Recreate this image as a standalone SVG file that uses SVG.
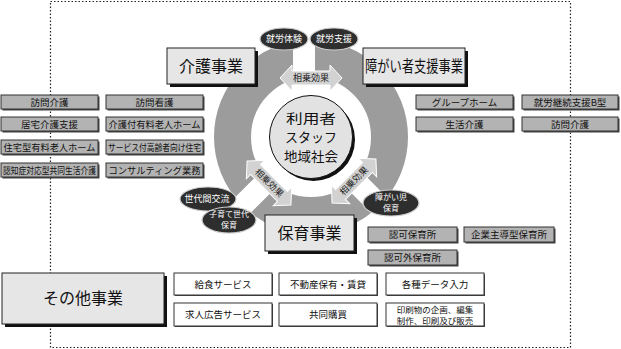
<svg xmlns="http://www.w3.org/2000/svg" width="621" height="349" viewBox="0 0 621 349">
<style>
text{font-family:"Noto Sans CJK JP","Noto Sans",sans-serif;text-anchor:middle;fill:#111}
.sb{fill:#b3b3b3;stroke:#333;stroke-width:1}
.sh{fill:#444}
.wb{fill:#fff;stroke:#333;stroke-width:1}
.bb{fill:#e6e6e6;stroke:#222;stroke-width:1}
.bs{fill:#111}
.t9{font-size:9.5px}
.t8{font-size:8.5px}
.big{font-size:16px}
.ct{font-size:13px}
.el{fill:#2e2e2e;stroke:#ccc;stroke-width:1.2}
.et{font-size:9px;fill:#fff}
.et2{font-size:8px;fill:#fff}
.arr{fill:#d2d2d2;stroke:#fff;stroke-width:1}
.at{font-size:9px;fill:#222}
</style>
<defs>
<path id="darr" d="M-31,0 L-19,-13 L-19,-7 L19,-7 L19,-13 L31,0 L19,13 L19,7 L-19,7 L-19,13 Z"/>
</defs>
<rect x="50.5" y="1.5" width="520" height="346" fill="none" stroke="#222" stroke-width="1.2" stroke-dasharray="1.5 2"/>
<g id="ring">
<circle cx="311" cy="137" r="78.5" fill="none" stroke="#9c9c9c" stroke-width="37"/>
<rect x="293" y="30" width="22" height="55" fill="#fff"/>
<rect x="50" y="-11" width="58" height="22" fill="#fff" transform="translate(311,137) rotate(135)"/>
<rect x="50" y="-11" width="58" height="22" fill="#fff" transform="translate(311,137) rotate(45)"/>
</g>
<g id="center">
<circle cx="313.5" cy="139.5" r="41.5" fill="#111"/>
<circle cx="311" cy="137" r="41.5" fill="#e2e2e2" stroke="#111" stroke-width="1"/>
<text class="ct" x="311" y="123" textLength="50" lengthAdjust="spacingAndGlyphs">利用者</text>
<text class="ct" x="311" y="142" textLength="52" lengthAdjust="spacingAndGlyphs">スタッフ</text>
<text class="ct" x="311" y="161" textLength="54" lengthAdjust="spacingAndGlyphs">地域社会</text>
</g>
<g id="connectors">
<g transform="translate(311,78)"><use href="#darr" class="arr"/><text class="at" y="3">相乗効果</text></g>
<g transform="translate(269,183) rotate(45)"><use href="#darr" class="arr"/><text class="at" y="3">相乗効果</text></g>
<g transform="translate(354,181) rotate(-45)"><use href="#darr" class="arr"/><text class="at" y="3">相乗効果</text></g>
</g>
<g id="kaigo">
<rect class="bs" x="170" y="51" width="88" height="36"/>
<rect class="bb" x="167" y="48" width="88" height="36"/>
<text class="big" x="211" y="72">介護事業</text>
</g>
<g id="shogai">
<rect class="bs" x="366" y="51" width="102" height="36"/>
<rect class="bb" x="363" y="48" width="102" height="36"/>
<text class="big" x="414" y="72" textLength="98" lengthAdjust="spacingAndGlyphs">障がい者支援事業</text>
</g>
<g id="hoiku">
<rect class="bs" x="268" y="218" width="89" height="36"/>
<rect class="bb" x="265" y="215" width="89" height="36"/>
<text class="big" x="309.5" y="239">保育事業</text>
</g>
<g id="sonota">
<rect class="bs" x="5" y="276" width="162" height="51"/>
<rect class="bb" x="2" y="273" width="162" height="51"/>
<text class="big" x="83" y="304">その他事業</text>
</g>
<g id="ellipses">
<g id="e1"><ellipse class="el" cx="284" cy="39" rx="24" ry="11"/><text class="et" x="284" y="42">就労体験</text></g>
<g id="e2"><ellipse class="el" cx="334" cy="39" rx="24" ry="11"/><text class="et" x="334" y="42">就労支援</text></g>
<g id="e3"><ellipse class="el" cx="208" cy="199" rx="28" ry="12"/><text class="et" x="207" y="202">世代間交流</text></g>
<g id="e4"><ellipse class="el" cx="229" cy="220" rx="27" ry="13"/><text class="et2" x="229" y="217">子育て世代</text><text class="et2" x="229" y="228">保育</text></g>
<g id="e5"><ellipse class="el" cx="391" cy="203" rx="28" ry="13"/><text class="et2" x="391" y="200">障がい児</text><text class="et2" x="391" y="211">保育</text></g>
</g>
<g id="kaigo-items">
<g id="k1"><rect class="sh" x="2.5" y="96.5" width="97" height="14"/><rect class="sb" x="1" y="95" width="97" height="14"/><text class="t9" x="49.5" y="105.5">訪問介護</text></g>
<g id="k2"><rect class="sh" x="2.5" y="118.5" width="97" height="14"/><rect class="sb" x="1" y="117" width="97" height="14"/><text class="t9" x="49.5" y="127.5">居宅介護支援</text></g>
<g id="k3"><rect class="sh" x="2.5" y="141.5" width="97" height="14"/><rect class="sb" x="1" y="140" width="97" height="14"/><text class="t9" x="49.5" y="150.5" textLength="92" lengthAdjust="spacingAndGlyphs">住宅型有料老人ホーム</text></g>
<g id="k4"><rect class="sh" x="2.5" y="164.5" width="97" height="14"/><rect class="sb" x="1" y="163" width="97" height="14"/><text class="t9" x="49.5" y="173.5" textLength="93" lengthAdjust="spacingAndGlyphs">認知症対応型共同生活介護</text></g>
<g id="k5"><rect class="sh" x="107.5" y="96.5" width="97" height="14"/><rect class="sb" x="106" y="95" width="97" height="14"/><text class="t9" x="154.5" y="105.5">訪問看護</text></g>
<g id="k6"><rect class="sh" x="107.5" y="118.5" width="97" height="14"/><rect class="sb" x="106" y="117" width="97" height="14"/><text class="t9" x="154.5" y="127.5" textLength="92" lengthAdjust="spacingAndGlyphs">介護付有料老人ホーム</text></g>
<g id="k7"><rect class="sh" x="107.5" y="141.5" width="97" height="14"/><rect class="sb" x="106" y="140" width="97" height="14"/><text class="t9" x="154.5" y="150.5" textLength="93" lengthAdjust="spacingAndGlyphs">サービス付高齢者向け住宅</text></g>
<g id="k8"><rect class="sh" x="107.5" y="164.5" width="97" height="14"/><rect class="sb" x="106" y="163" width="97" height="14"/><text class="t9" x="154.5" y="173.5" textLength="92" lengthAdjust="spacingAndGlyphs">コンサルティング業務</text></g>
</g>
<g id="shogai-items">
<g id="s1"><rect class="sh" x="417.5" y="96.5" width="97" height="14"/><rect class="sb" x="416" y="95" width="97" height="14"/><text class="t9" x="464.5" y="105.5">グループホーム</text></g>
<g id="s2"><rect class="sh" x="523.5" y="96.5" width="96" height="14"/><rect class="sb" x="522" y="95" width="96" height="14"/><text class="t9" x="570" y="105.5">就労継続支援B型</text></g>
<g id="s3"><rect class="sh" x="417.5" y="118.5" width="97" height="14"/><rect class="sb" x="416" y="117" width="97" height="14"/><text class="t9" x="464.5" y="127.5">生活介護</text></g>
<g id="s4"><rect class="sh" x="523.5" y="118.5" width="96" height="14"/><rect class="sb" x="522" y="117" width="96" height="14"/><text class="t9" x="570" y="127.5">訪問介護</text></g>
</g>
<g id="hoiku-items">
<g id="h1"><rect class="sh" x="369.5" y="228.5" width="89" height="15"/><rect class="sb" x="368" y="227" width="89" height="15"/><text class="t9" x="412.5" y="238">認可保育所</text></g>
<g id="h2"><rect class="sh" x="465.5" y="228.5" width="90" height="15"/><rect class="sb" x="464" y="227" width="90" height="15"/><text class="t9" x="509" y="238">企業主導型保育所</text></g>
<g id="h3"><rect class="sh" x="369.5" y="251.5" width="89" height="15"/><rect class="sb" x="368" y="250" width="89" height="15"/><text class="t9" x="412.5" y="261">認可外保育所</text></g>
</g>
<g id="sonota-items">
<g id="o1"><rect class="sh" x="175" y="274" width="98" height="22"/><rect class="wb" x="174" y="273" width="98" height="22"/><text class="t9" x="223" y="287.5">給食サービス</text></g>
<g id="o2"><rect class="sh" x="280" y="274" width="98" height="22"/><rect class="wb" x="279" y="273" width="98" height="22"/><text class="t9" x="328" y="287.5">不動産保有・賃貸</text></g>
<g id="o3"><rect class="sh" x="387" y="274" width="98" height="22"/><rect class="wb" x="386" y="273" width="98" height="22"/><text class="t9" x="435" y="287.5">各種データ入力</text></g>
<g id="o4"><rect class="sh" x="175" y="304" width="98" height="23"/><rect class="wb" x="174" y="303" width="98" height="23"/><text class="t9" x="223" y="318">求人広告サービス</text></g>
<g id="o5"><rect class="sh" x="280" y="304" width="98" height="23"/><rect class="wb" x="279" y="303" width="98" height="23"/><text class="t9" x="328" y="318">共同購買</text></g>
<g id="o6"><rect class="sh" x="387" y="304" width="98" height="23"/><rect class="wb" x="386" y="303" width="98" height="23"/><text class="t8" x="435" y="312.5">印刷物の企画、編集</text><text class="t8" x="435" y="323.5">制作、印刷及び販売</text></g>
</g>
</svg>
